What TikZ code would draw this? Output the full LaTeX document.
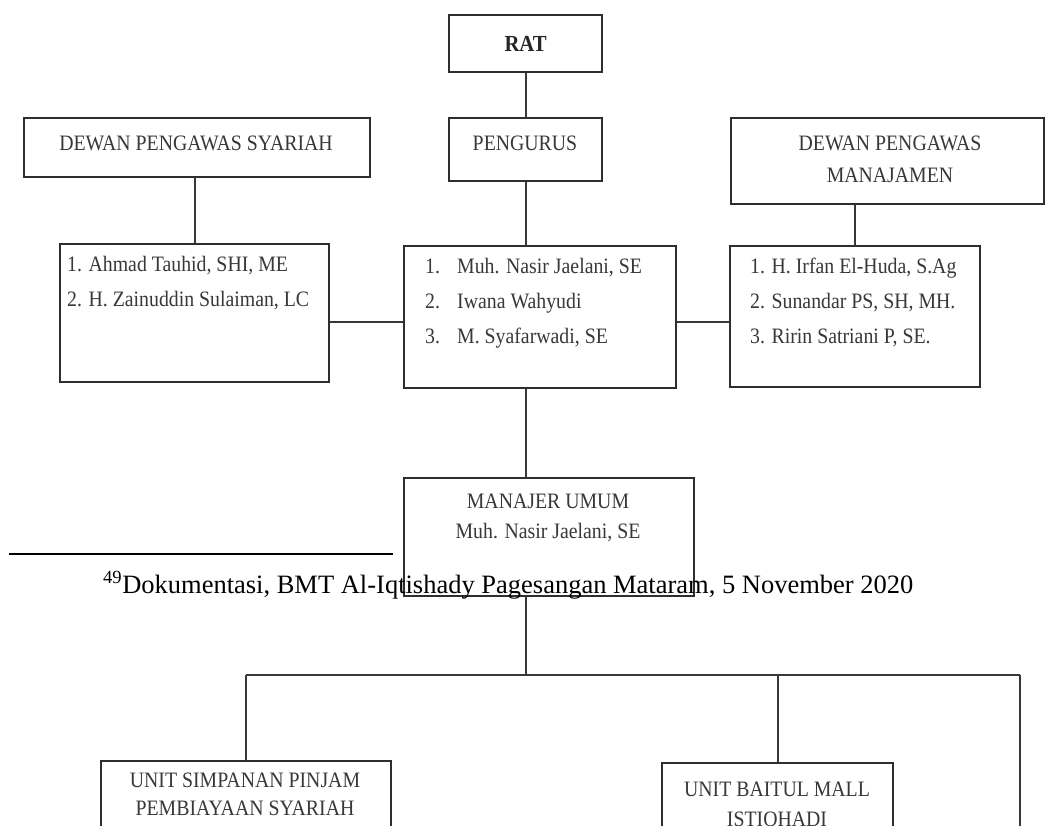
\documentclass[tikz,border=0pt]{standalone}
\usepackage{fontspec}
\setmainfont{Liberation Serif}
\newfontfamily\chartfont[FakeStretch=0.9]{Liberation Serif}
\tikzset{
  box/.style={draw=black!82, line width=2.2pt, fill=none, inner sep=0pt, anchor=north west},
  conn/.style={draw=black!78, line width=1.8pt},
  ctext/.style={text=black!78, font=\chartfont\fontsize{22}{24}\selectfont, inner sep=0pt},
  ltext/.style={text=black!78, font=\chartfont\fontsize{22}{35}\selectfont, inner sep=0pt, align=left, anchor=north west},
}
\begin{document}
\begin{tikzpicture}[x=1pt,y=-1pt]
\path[use as bounding box, clip] (0,0) rectangle (1046,826);
\fill[white] (0,0) rectangle (1046,826);
% boxes
\node[box, minimum width=153pt, minimum height=57pt] (rat) at (448,14) {};
\node[ctext, font=\chartfont\fontsize{23}{24}\selectfont\bfseries, text=black!85] (ratt) at (rat.center) {RAT};
\node[box, minimum width=153pt, minimum height=63pt] (peng) at (448,117) {};
\node[ctext] (pengt) at (525,143) {PENGURUS};
\node[box, minimum width=346pt, minimum height=59pt] (dps) at (23,117) {};
\node[ctext] (dpst) at (196,143) {DEWAN PENGAWAS SYARIAH};
\node[box, minimum width=313pt, minimum height=86pt] (dpm) at (730,117) {};
\node[ctext, align=center, font=\chartfont\fontsize{22}{32}\selectfont] (dpmt) at (890,159) {DEWAN PENGAWAS\\MANAJAMEN};
\node[box, minimum width=269pt, minimum height=138pt] (lm) at (59,243) {};
\node[ltext] (lmt) at (67,256) {1. Ahmad Tauhid, SHI, ME\\2. H. Zainuddin Sulaiman, LC};
\node[box, minimum width=272pt, minimum height=142pt] (cm) at (403,245) {};
\node[ltext] (cmt) at (425,258) {\makebox[32pt][l]{1.}Muh. Nasir Jaelani, SE\\\makebox[32pt][l]{2.}Iwana Wahyudi\\\makebox[32pt][l]{3.}M. Syafarwadi, SE};
\node[box, minimum width=250pt, minimum height=141pt] (rm) at (729,245) {};
\node[ltext] (rmt) at (750,258) {1. H. Irfan El-Huda, S.Ag\\2. Sunandar PS, SH, MH.\\3. Ririn Satriani P, SE.};
\node[box, minimum width=290pt, minimum height=118pt] (mu) at (403,477) {};
\node[ctext, align=center, font=\chartfont\fontsize{22}{30}\selectfont] (mut) at (548,518) {MANAJER UMUM\\Muh. Nasir Jaelani, SE};
\node[box, minimum width=290pt, minimum height=160pt] (us) at (100,760) {};
\node[ctext, align=center, font=\chartfont\fontsize{22}{28}\selectfont, anchor=north] (ust) at (245,773) {UNIT SIMPANAN PINJAM\\PEMBIAYAAN SYARIAH};
\node[box, minimum width=231pt, minimum height=160pt] (ub) at (661,762) {};
\node[ctext, align=center, font=\chartfont\fontsize{22}{30}\selectfont, anchor=north] (ubt) at (777,782) {UNIT BAITUL MALL\\ISTIQHADI};
% helper coordinates
\coordinate (hy) at (0,322);
\coordinate (bus) at (0,675);
\coordinate (rt) at (1020,675);
\coordinate (rb) at (1020,840);
% connectors
\draw[conn] (rat.south) -- (peng.north);
\draw[conn] (peng.south) -- (peng.south |- cm.north);
\draw[conn] (dps.south -| lm.north) -- (lm.north);
\draw[conn] (rm.north |- dpm.south) -- (rm.north);
\draw[conn] (lm.east |- hy) -- (cm.west |- hy);
\draw[conn] (cm.east |- hy) -- (rm.west |- hy);
\draw[conn] (peng.south |- cm.south) -- (peng.south |- mu.north);
\draw[conn] (peng.south |- mu.south) -- (peng.south |- bus);
\draw[conn] (us.north |- bus) -- (rt);
\draw[conn] (us.north |- bus) -- (us.north);
\draw[conn] (ub.north |- bus) -- (ub.north);
\draw[conn] (rt) -- (rb);
% footnote
\draw[line width=2.2pt, black] (9,554) -- (393,554);
\node[anchor=base west, inner sep=0pt, font=\fontsize{26.5}{30}\selectfont] (fn) at (103,593) {\textsuperscript{49}Dokumentasi, BMT Al-Iqtishady Pagesangan Mataram, 5 November 2020};
\end{tikzpicture}
\end{document}
